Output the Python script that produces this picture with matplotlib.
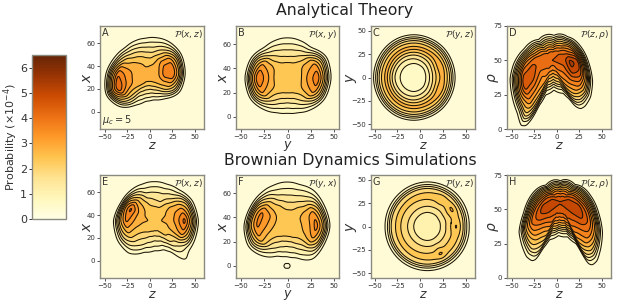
# Contour panels: analytical theory vs Brownian dynamics
import matplotlib
matplotlib.use("Agg")
import matplotlib.pyplot as plt
import numpy as np
from matplotlib.cm import ScalarMappable
from matplotlib.colors import Normalize

# Each panel is read off the picture along rays from a centre point:
# angle (deg), distance to the outermost contour, and the contour height
# at 30, 50, 70, 85 and 95 % of that distance.
angles16 = [0, 22.5, 45, 67.5, 90, 112.5, 135, 157.5, 180, 202.5, 225, 247.5, 270, 292.5, 315, 337.5]

a_center = (-5, 33)
a_peak = 3.2
a_radius = [43.5, 43, 38.5, 34, 31, 31, 32, 37, 43.5, 47, 40, 29, 23.5, 24, 30, 41]
a_density = [
    [3.3, 4.4, 4.6, 3.2, 1.5], [3.2, 4.0, 4.0, 2.7, 1.3], [3.0, 2.9, 2.3, 1.5, 0.9], [2.9, 2.3, 1.6, 1.1, 0.7],
    [2.9, 2.4, 1.7, 1.1, 0.7], [3.0, 2.6, 1.9, 1.2, 0.75], [3.2, 2.9, 2.2, 1.5, 0.85], [3.3, 3.2, 2.9, 1.9, 0.9],
    [3.4, 3.9, 4.5, 2.9, 1.3], [3.4, 4.1, 5.2, 3.5, 1.5], [3.2, 2.9, 2.7, 2.0, 1.0], [3.1, 2.3, 1.5, 1.0, 0.7],
    [3.0, 2.3, 1.6, 1.1, 0.7], [3.0, 2.3, 1.6, 1.1, 0.7], [3.0, 2.5, 1.8, 1.2, 0.75], [3.2, 3.2, 3.0, 2.1, 1.0],
]

b_center = (0, 32)
b_peak = 2.8
b_radius = [46, 45, 35, 33.5, 33, 33.5, 35, 42, 45, 43, 36, 30.5, 28.7, 30.5, 36, 43]
b_density = [
    [2.9, 3.8, 4.5, 2.9, 1.3], [2.85, 3.3, 3.6, 2.5, 1.2], [2.8, 2.6, 2.1, 1.4, 0.85], [2.8, 2.2, 1.6, 1.1, 0.7],
    [2.8, 2.1, 1.5, 1.0, 0.7], [2.8, 2.2, 1.6, 1.1, 0.7], [2.8, 2.6, 2.1, 1.4, 0.85], [2.85, 3.3, 3.6, 2.5, 1.2],
    [2.9, 3.8, 4.7, 3.0, 1.3], [2.9, 3.3, 3.7, 2.5, 1.2], [2.8, 2.5, 2.1, 1.4, 0.8], [2.8, 2.3, 1.6, 1.1, 0.7],
    [2.8, 2.3, 1.5, 1.0, 0.7], [2.8, 2.3, 1.6, 1.1, 0.7], [2.8, 2.5, 2.1, 1.4, 0.8], [2.85, 3.3, 3.7, 2.5, 1.2],
]

c_center = (-6.5, 0)
c_peak = 0.7
c_radius = [44, 44, 44.5, 44.5, 45, 45, 44.5, 44, 44, 44, 44.5, 45, 45, 44.5, 44.5, 44]
c_density = [
    [1.0, 2.3, 3.3, 2.3, 1.2], [0.98, 2.2, 3.55, 2.3, 1.2], [0.92, 2.0, 3.3, 2.3, 1.2], [0.88, 1.85, 3.25, 2.3, 1.2],
    [0.85, 1.75, 3.25, 2.3, 1.2], [0.85, 1.7, 3.25, 2.3, 1.2], [0.82, 1.65, 3.25, 2.3, 1.2], [0.8, 1.6, 3.25, 2.3, 1.2],
    [0.8, 1.55, 3.25, 2.3, 1.2], [0.8, 1.6, 3.25, 2.3, 1.2], [0.82, 1.65, 3.25, 2.3, 1.2], [0.85, 1.7, 3.25, 2.3, 1.2],
    [0.85, 1.75, 3.25, 2.3, 1.2], [0.88, 1.85, 3.25, 2.3, 1.2], [0.92, 2.0, 3.3, 2.3, 1.2], [0.98, 2.2, 3.55, 2.3, 1.2],
]

d_center = (-5, 50)
d_peak = 5.0
d_angle = [18, 45, 84, 135, 165, 183, 196, 210, 225, 234, 239, 243, 246, 254, 275, 297, 304, 307, 311.5, 317.5, 328, 341, 357]
d_radius = [32.6, 24, 18.1, 21.2, 32, 42, 47.8, 50.6, 53.7, 58, 55, 46, 36.2, 26, 21.6, 26.8, 33.8, 41.4, 46.8, 48.8, 49.4, 46.5, 40]
d_density = [
    [5.2, 4.9, 4.0, 2.4, 1.0], [4.8, 4.1, 3.0, 1.9, 0.9], [4.7, 3.6, 2.4, 1.4, 0.8], [4.6, 3.7, 2.5, 1.4, 0.8],
    [4.9, 4.2, 3.0, 1.8, 0.85], [4.9, 4.9, 4.0, 2.3, 1.0], [4.9, 5.2, 4.9, 2.9, 1.2], [4.5, 5.3, 5.6, 3.4, 1.3],
    [4.0, 4.4, 4.3, 2.9, 1.2], [3.8, 3.6, 3.4, 2.4, 1.0], [3.7, 3.1, 2.5, 1.8, 0.85], [3.7, 3.0, 2.0, 1.2, 0.7],
    [3.9, 3.1, 1.9, 1.1, 0.7], [4.1, 3.2, 2.1, 1.1, 0.7], [4.1, 3.2, 2.2, 1.2, 0.7], [4.1, 3.3, 2.3, 1.2, 0.7],
    [4.1, 3.3, 2.3, 1.2, 0.7], [4.1, 3.4, 2.4, 1.4, 0.75], [4.2, 3.6, 2.8, 1.7, 0.85], [4.3, 4.0, 3.3, 2.2, 1.0],
    [4.6, 4.7, 4.1, 2.8, 1.2], [5.0, 5.9, 5.2, 3.3, 1.3], [5.1, 6.3, 6.0, 3.7, 1.5],
]

e_center = (5, 35)
e_peak = 2.9
e_angle = [0, 22.5, 45, 67.5, 90, 112.5, 135, 157.5, 180, 202.5, 225, 247.5, 270, 292.5, 305, 315, 325, 337.5]
e_radius = [48, 45, 38, 34.5, 34, 34.5, 37, 40, 45, 44, 40, 29.5, 26, 27, 33, 49, 46, 47]
e_density = [
    [3.1, 3.7, 4.9, 3.2, 1.5], [3.0, 3.4, 3.4, 2.6, 1.2], [2.85, 2.7, 2.0, 1.4, 0.8], [2.7, 2.0, 1.6, 1.1, 0.7],
    [2.7, 2.1, 1.6, 1.1, 0.7], [2.7, 2.4, 1.7, 1.1, 0.7], [2.9, 3.0, 2.9, 2.0, 1.0], [3.0, 3.6, 4.8, 3.6, 1.7],
    [3.1, 3.5, 4.2, 2.9, 1.3], [2.8, 2.8, 2.9, 2.1, 1.0], [2.6, 2.1, 1.7, 1.2, 0.7], [2.6, 2.0, 1.5, 1.0, 0.7],
    [2.6, 2.0, 1.4, 1.0, 0.7], [2.6, 2.1, 1.5, 1.0, 0.7], [2.7, 2.2, 1.6, 1.0, 0.7], [2.7, 2.1, 1.1, 0.75, 0.6],
    [2.7, 2.4, 2.0, 1.3, 0.7], [2.9, 3.2, 3.6, 2.5, 1.1],
]

f_center = (-1, 33)
f_peak = 2.8
f_radius = [46, 43, 41, 36.5, 36, 36, 38, 41, 45, 44, 35, 26.5, 25, 28, 39, 42]
f_density = [
    [2.9, 3.3, 4.4, 3.0, 1.4], [2.9, 3.3, 3.7, 2.6, 1.2], [2.8, 2.6, 1.9, 1.3, 0.8], [2.7, 2.2, 1.6, 1.1, 0.7],
    [2.7, 2.1, 1.5, 1.0, 0.7], [2.8, 2.5, 1.7, 1.1, 0.7], [2.9, 2.9, 2.7, 1.8, 0.9], [3.0, 3.7, 4.2, 3.1, 1.5],
    [3.0, 3.6, 4.2, 3.1, 1.4], [2.7, 2.9, 3.3, 2.1, 1.0], [2.6, 2.1, 1.6, 1.1, 0.7], [2.6, 2.0, 1.5, 1.0, 0.7],
    [2.6, 2.0, 1.4, 1.0, 0.7], [2.6, 2.0, 1.4, 1.0, 0.7], [2.6, 2.1, 1.5, 1.0, 0.7], [2.8, 3.0, 3.5, 2.6, 1.2],
]
# small island under panel F
f_island_center = (-0.5, 0)
f_island_angle = [0, 90, 180, 270]
f_island_radius = [3.4, 1.8, 3.4, 1.8]
f_island_density = [[0.75, 0.7, 0.65, 0.6, 0.55]] * 4

g_center = (7.5, 0)
g_peak = 1.2
g_angle = [0, 17, 34, 50, 62, 75, 90, 135, 180, 225, 270, 285, 297, 310, 340]
g_radius = [45.5, 46, 46.5, 47, 47, 47, 47, 46, 45.5, 46, 46.5, 46.5, 46.5, 46.5, 46]
g_density = [
    [1.42, 2.2, 3.15, 2.2, 1.05], [1.42, 2.15, 2.8, 2.2, 1.05], [1.44, 2.2, 3.2, 2.2, 1.05], [1.42, 2.15, 2.85, 2.2, 1.05],
    [1.42, 2.15, 3.05, 2.2, 1.05], [1.42, 2.15, 2.8, 2.2, 1.05], [1.42, 2.15, 2.75, 2.2, 1.05], [1.44, 2.15, 2.7, 2.2, 1.05],
    [1.42, 2.1, 2.7, 2.2, 1.05], [1.44, 2.15, 2.7, 2.2, 1.05], [1.42, 2.15, 2.75, 2.2, 1.05], [1.42, 2.15, 2.8, 2.2, 1.05],
    [1.42, 2.2, 3.2, 2.25, 1.05], [1.44, 2.15, 2.8, 2.2, 1.05], [1.42, 2.15, 2.8, 2.2, 1.05],
]

h_center = (4, 55)
h_peak = 5.6
h_angle = [8.6, 39, 90, 142, 169, 191, 205, 216, 226.5, 233.7, 237.6, 239.5, 246, 265, 287.7, 301, 303, 304, 307.6, 313.6, 323, 335, 349]
h_radius = [33.4, 20.6, 15.6, 20.3, 31.6, 41, 49.7, 52, 53.8, 52.4, 48.5, 39.4, 29.5, 24, 26, 35, 45.5, 53, 57, 58, 55, 50.6, 42.8]
h_density = [
    [5.6, 5.0, 3.6, 2.2, 1.0], [5.0, 4.1, 2.9, 1.7, 0.85], [4.9, 4.0, 2.8, 1.7, 0.85], [5.0, 4.2, 2.9, 1.7, 0.85],
    [5.6, 5.0, 3.5, 2.1, 1.0], [5.8, 5.7, 4.6, 2.9, 1.3], [5.7, 5.4, 4.7, 3.2, 1.3], [5.2, 4.6, 3.9, 2.7, 1.2],
    [4.9, 3.7, 3.0, 2.2, 1.0], [4.7, 3.4, 2.3, 1.7, 0.85], [4.7, 3.2, 2.0, 1.2, 0.7], [4.8, 3.7, 2.2, 1.2, 0.7],
    [5.0, 4.0, 2.6, 1.3, 0.7], [5.1, 4.2, 2.8, 1.4, 0.75], [5.1, 4.2, 2.8, 1.4, 0.75], [5.1, 4.1, 2.7, 1.4, 0.75],
    [5.0, 3.9, 2.5, 1.4, 0.75], [4.8, 3.7, 2.3, 1.5, 0.8], [4.8, 3.8, 2.9, 2.0, 0.95], [5.0, 4.2, 3.6, 2.4, 1.1],
    [5.3, 4.9, 4.4, 3.1, 1.3], [5.7, 5.7, 4.9, 3.3, 1.3], [5.9, 5.8, 4.7, 3.0, 1.3],
]

# letter, title, xlabel, ylabel
panel_text = [
    ["A", r"$\mathcal{P}(x,z)$", "$z$", "$x$"],
    ["B", r"$\mathcal{P}(x,y)$", "$y$", "$x$"],
    ["C", r"$\mathcal{P}(y,z)$", "$z$", "$y$"],
    ["D", r"$\mathcal{P}(z,\rho)$", "$z$", r"$\rho$"],
    ["E", r"$\mathcal{P}(x,z)$", "$z$", "$x$"],
    ["F", r"$\mathcal{P}(y,x)$", "$y$", "$x$"],
    ["G", r"$\mathcal{P}(y,z)$", "$z$", "$y$"],
    ["H", r"$\mathcal{P}(z,\rho)$", "$z$", r"$\rho$"],
]
colorbar_ticks = [0, 1, 2, 3, 4, 5, 6]
xticks = [-50, -25, 0, 25, 50]

W, H = 617, 304
levels = np.arange(0.5, 7.51, 0.5)
band_norm = Normalize(0, 7.5)
cmap = plt.get_cmap("YlOrBr")
line_color = "#1c1408"
spine_color = "#8a8a80"
text_color = "#333333"
background = "#FFFBD6"


def px_axes(fig, left, top, right, bottom):
    return fig.add_axes([left / W, 1 - bottom / H, (right - left) / W, (bottom - top) / H])


def smooth(z, width, axis, wrap):
    # hat kernel along one axis
    half = max(int(width), 1)
    kernel = np.r_[np.arange(1, half + 2), np.arange(half, 0, -1)].astype(float)
    kernel /= kernel.sum()
    pad = [(0, 0)] * z.ndim
    pad[axis] = (half, half)
    padded = np.pad(z, pad, mode="wrap" if wrap else "edge")
    return np.apply_along_axis(lambda v: np.convolve(v, kernel, mode="valid"), axis, padded)


def polar_field(center, angle, radius, peak, density, r_blur, z_blur):
    angle = np.array(angle, float)
    s_nodes = np.array([0, 0.3, 0.5, 0.7, 0.85, 0.95, 1.0, 1.2])
    density = np.array(density, float)
    n = len(angle)
    table = np.column_stack([np.full(n, peak), density, np.full(n, 0.5), np.zeros(n)])
    theta = np.arange(0, 360, 1.0)
    s = np.linspace(0, 1.2, 121)
    r = smooth(smooth(np.interp(theta, angle, radius, period=360), r_blur, 0, True), r_blur, 0, True)
    by_angle = np.column_stack([np.interp(theta, angle, table[:, i], period=360) for i in range(len(s_nodes))])
    z = np.array([np.interp(s, s_nodes, row) for row in by_angle])
    z = smooth(smooth(z, z_blur, 0, True), z_blur, 0, True)
    z = smooth(smooth(z, 3, 1, False), 3, 1, False)
    # close the seam
    theta = np.r_[theta, 360.0]
    r = np.r_[r, r[0]]
    z = np.vstack([z, z[0]])
    ss, tt = np.meshgrid(s, np.radians(theta))
    rr = r[:, None] * ss
    return center[0] + rr * np.cos(tt), center[1] + rr * np.sin(tt), z


def draw_panel(ax, field):
    x, y, z = field
    ax.contourf(x, y, z, levels=levels, cmap=cmap, norm=band_norm)
    ax.contour(x, y, z, levels=levels, colors=line_color, linewidths=0.75)


panels = [
    (a_center, angles16, a_radius, a_peak, a_density, 6, 8),
    (b_center, angles16, b_radius, b_peak, b_density, 6, 8),
    (c_center, angles16, c_radius, c_peak, c_density, 6, 6),
    (d_center, d_angle, d_radius, d_peak, d_density, 1, 6),
    (e_center, e_angle, e_radius, e_peak, e_density, 3, 6),
    (f_center, angles16, f_radius, f_peak, f_density, 6, 8),
    (g_center, g_angle, g_radius, g_peak, g_density, 4, 3),
    (h_center, h_angle, h_radius, h_peak, h_density, 1, 6),
]

# pixel boxes of the panels
lefts = [100, 236, 371, 507]
rights = [204, 339, 475, 611]
tops = [26, 175]
bottoms = [129, 278]
xlims = [(-55.5, 60), (-55, 55), (-54, 60), (-55, 60)]
ylims = [(-15, 75), (-10, 75), (-55, 55), (0, 75)]
yticks = [[0, 20, 40, 60], [0, 20, 40, 60], [-50, -25, 0, 25, 50], [0, 25, 50, 75]]

fig = plt.figure(figsize=(W / 100, H / 100), dpi=100)

for i, spec in enumerate(panels):
    row, col = i // 4, i % 4
    ax = px_axes(fig, lefts[col], tops[row], rights[col], bottoms[row])
    ax.set_facecolor(background)
    draw_panel(ax, polar_field(*spec))
    if i == 5:
        x, y, z = polar_field(f_island_center, f_island_angle, f_island_radius, 0.8, f_island_density, 10, 10)
        ax.contour(x, y, z, levels=[0.5], colors=line_color, linewidths=0.75)
    ax.set_xlim(xlims[col])
    ax.set_ylim(ylims[col])
    ax.set_xticks(xticks)
    ax.set_yticks(yticks[col])
    ax.tick_params(labelsize=5, length=2, width=0.6, pad=1.5, colors=text_color)
    for spine in ax.spines.values():
        spine.set_color(spine_color)
        spine.set_linewidth(1.0)
    letter, title, xlabel, ylabel = panel_text[i]
    ax.set_xlabel(xlabel, fontsize=9, labelpad=-0.5, color=text_color)
    ax.set_ylabel(ylabel, fontsize=10, labelpad=-5.5, color=text_color)
    ax.text(0.015, 0.985, letter, transform=ax.transAxes, ha="left", va="top", fontsize=7, color=text_color)
    ax.text(0.985, 0.985, title, transform=ax.transAxes, ha="right", va="top", fontsize=6.5, color=text_color)
    if i == 0:
        ax.text(0.015, 0.02, r"$\mu_c = 5$", transform=ax.transAxes, ha="left", va="bottom", fontsize=7, color=text_color)

fig.text(344.5 / W, 1 - 11 / H, "Analytical Theory", ha="center", va="center", fontsize=11.3, color="#222222")
fig.text(350 / W, 1 - 160.5 / H, "Brownian Dynamics Simulations", ha="center", va="center", fontsize=11.3, color="#222222")

cax = px_axes(fig, 32, 55, 66, 219)
cbar = fig.colorbar(ScalarMappable(norm=Normalize(0, 6.5), cmap=cmap), cax=cax, ticks=colorbar_ticks)
cbar.ax.yaxis.set_ticks_position("left")
cbar.ax.yaxis.set_label_position("left")
cbar.ax.tick_params(labelsize=8, length=2.5, width=0.7, pad=1, colors=text_color)
cbar.outline.set_edgecolor(spine_color)
cbar.outline.set_linewidth(1.0)
cbar.set_label(r"Probability ($\times 10^{-4}$)", fontsize=8, labelpad=0, color=text_color)

fig.savefig("out.png", dpi=100)
